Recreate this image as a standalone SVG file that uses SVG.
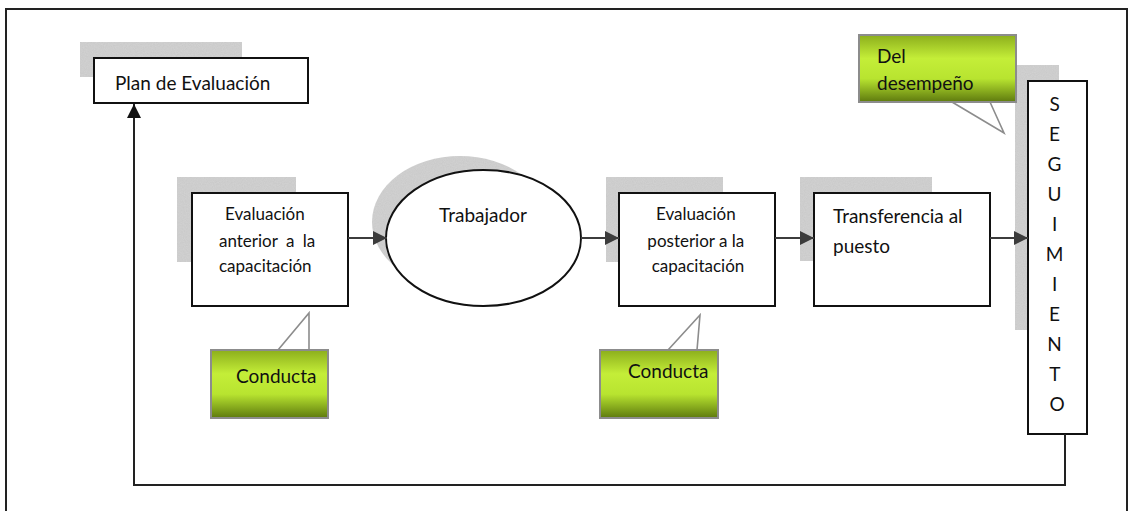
<svg xmlns="http://www.w3.org/2000/svg" width="1133" height="511" viewBox="0 0 1133 511">
<style>
  .t{font-family:Lato,"Liberation Sans",sans-serif;fill:#111}
  .box{fill:#fff;stroke:#111;stroke-width:2}
  .sh{fill:#c3c3c3;filter:url(#grain)}
  .conn{stroke:#3c3c3c;stroke-width:2;fill:none}
  .callout{fill:url(#lime);stroke:#8c8c8c;stroke-width:2}
  .tail{fill:none;stroke:#8c8c8c;stroke-width:1.6}
</style>
<defs>
  <linearGradient id="lime" x1="0" y1="0" x2="0" y2="1">
    <stop offset="0" stop-color="#8cae1c"/>
    <stop offset="0.35" stop-color="#c4ee38"/>
    <stop offset="0.65" stop-color="#b8e430"/>
    <stop offset="1" stop-color="#5e7a0e"/>
  </linearGradient>
  <filter id="grain" x="0" y="0" width="1" height="1">
    <feTurbulence type="fractalNoise" baseFrequency="0.9" numOctaves="2" seed="3" result="n"/>
    <feColorMatrix in="n" type="matrix" values="0 0 0 0 0.68  0 0 0 0 0.68  0 0 0 0 0.68  0 0 0 0.7 0" result="g"/>
    <feFlood flood-color="#c8c8c8" result="base"/>
    <feComposite in="g" in2="base" operator="over" result="m"/>
    <feComposite in="m" in2="SourceAlpha" operator="in"/>
  </filter>
  <marker id="ah" viewBox="0 0 10 10" refX="10" refY="5" markerWidth="7" markerHeight="7" markerUnits="strokeWidth" orient="auto">
    <path d="M0,0 L10,5 L0,10 Z" fill="#3c3c3c"/>
  </marker>
  <marker id="ahk" viewBox="0 0 10 10" refX="10" refY="5" markerWidth="7" markerHeight="7" markerUnits="strokeWidth" orient="auto">
    <path d="M0,0 L10,5 L0,10 Z" fill="#111"/>
  </marker>
</defs>
<rect width="1133" height="511" fill="#fff"/>
<!-- outer frame -->
<path d="M6,511 L6,9 L1127,9 L1127,511" fill="none" stroke="#222" stroke-width="2"/>

<g id="plan">
  <rect class="sh" x="80" y="42" width="162" height="35"/>
  <rect class="box" x="94" y="58" width="214" height="45"/>
  <text class="t" x="115" y="90" font-size="19">Plan de Evaluación</text>
</g>

<g id="eval-anterior">
  <rect class="sh" x="177" y="177" width="119" height="85"/>
  <rect class="box" x="192" y="193" width="156" height="113"/>
  <text class="t" font-size="17">
    <tspan x="225" y="220">Evaluación</tspan>
    <tspan x="219" y="247" word-spacing="4">anterior a la</tspan>
    <tspan x="219" y="272">capacitación</tspan>
  </text>
</g>

<g id="trabajador">
  <ellipse class="sh" cx="460" cy="222" rx="88" ry="66"/>
  <ellipse class="box" cx="483.5" cy="238" rx="97.5" ry="68"/>
  <text class="t" x="483" y="222" font-size="19" text-anchor="middle">Trabajador</text>
</g>

<g id="eval-posterior">
  <rect class="sh" x="606" y="177" width="117" height="85"/>
  <rect class="box" x="619" y="193" width="156" height="113"/>
  <text class="t" font-size="17" text-anchor="middle">
    <tspan x="698" y="220">Evaluación</tspan>
    <tspan x="698" y="247">posterior a la</tspan>
    <tspan x="698" y="272">capacitación</tspan>
  </text>
</g>

<g id="transferencia">
  <rect class="sh" x="800" y="177" width="132" height="84"/>
  <rect class="box" x="814" y="193" width="176" height="113"/>
  <text class="t" font-size="19">
    <tspan x="833" y="223">Transferencia al</tspan>
    <tspan x="833" y="253">puesto</tspan>
  </text>
</g>

<g id="seguimiento">
  <rect class="sh" x="1015" y="65" width="44" height="265"/>
  <rect class="box" x="1028" y="81" width="59" height="353"/>
  <text class="t" font-size="19" text-anchor="middle">
    <tspan x="1057" y="111">S</tspan>
    <tspan x="1057" y="141">E</tspan>
    <tspan x="1057" y="171">G</tspan>
    <tspan x="1057" y="201">U</tspan>
    <tspan x="1057" y="231">I</tspan>
    <tspan x="1057" y="261">M</tspan>
    <tspan x="1057" y="291">I</tspan>
    <tspan x="1057" y="321">E</tspan>
    <tspan x="1057" y="351">N</tspan>
    <tspan x="1057" y="381">T</tspan>
    <tspan x="1057" y="411">O</tspan>
  </text>
</g>

<g id="callout-desempeno">
  <polyline class="tail" points="952,102 1004,133 990,102"/>
  <rect class="callout" x="859" y="35" width="157" height="67"/>
  <text class="t" font-size="19">
    <tspan x="877" y="63">Del</tspan>
    <tspan x="877" y="90">desempeño</tspan>
  </text>
</g>

<g id="callout-conducta-1">
  <polyline class="tail" points="278,350 309,313 309,350"/>
  <rect class="callout" x="211" y="350" width="117" height="68"/>
  <text class="t" x="236" y="383" font-size="19">Conducta</text>
</g>

<g id="callout-conducta-2">
  <polyline class="tail" points="668,350 700,315 697,350"/>
  <rect class="callout" x="600" y="350" width="118" height="68"/>
  <text class="t" x="628" y="378" font-size="19">Conducta</text>
</g>

<g id="connectors">
  <line class="conn" x1="348" y1="238" x2="387" y2="238" marker-end="url(#ah)"/>
  <line class="conn" x1="581" y1="238" x2="619" y2="238" marker-end="url(#ah)"/>
  <line class="conn" x1="775" y1="238" x2="814" y2="238" marker-end="url(#ah)"/>
  <line class="conn" x1="990" y1="238" x2="1028" y2="238" marker-end="url(#ah)"/>
  <path d="M1065,434 L1065,485 L134,485 L134,104" fill="none" stroke="#222" stroke-width="2" marker-end="url(#ahk)"/>
</g>
</svg>
